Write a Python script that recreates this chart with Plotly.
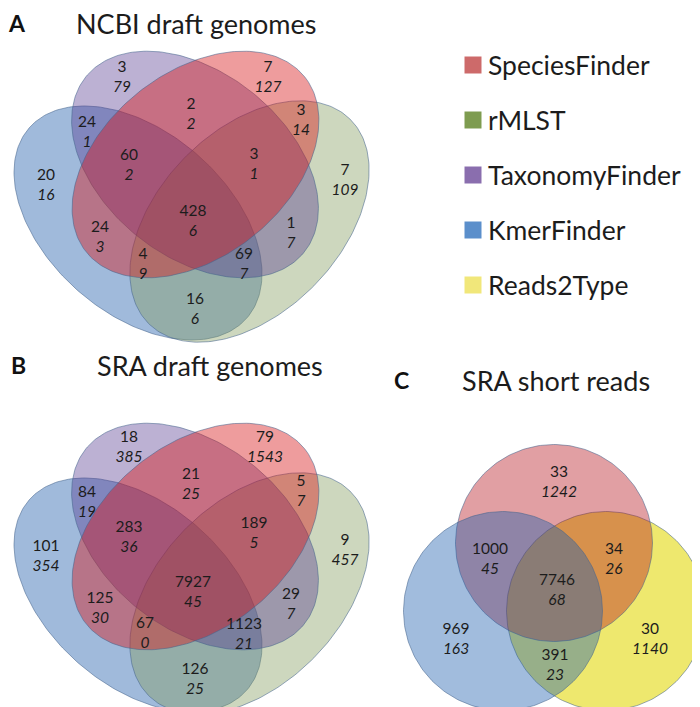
import numpy as np
import plotly.graph_objects as go

# ---------------- data ----------------
tools = ["SpeciesFinder", "rMLST", "TaxonomyFinder", "KmerFinder", "Reads2Type"]

# four-set regions (P=TaxonomyFinder, R=SpeciesFinder, G=rMLST, B=KmerFinder)
quad_regions = ["P", "R", "PR", "RG", "PB", "PRB", "PRG", "B", "G",
                "PRBG", "RB", "PG", "RBG", "PBG", "BG"]
ncbi_top = [3, 7, 2, 3, 24, 60, 3, 20, 7, 428, 24, 1, 4, 69, 16]
ncbi_bottom = [79, 127, 2, 14, 1, 2, 1, 16, 109, 6, 3, 7, 9, 7, 6]
sra_draft_top = [18, 79, 21, 5, 84, 283, 189, 101, 9, 7927, 125, 29, 67, 1123, 126]
sra_draft_bottom = [385, 1543, 25, 7, 19, 36, 5, 354, 457, 45, 30, 7, 0, 21, 25]

# three-set regions (R=SpeciesFinder, B=KmerFinder, Y=Reads2Type)
tri_regions = ["R", "RB", "RY", "RBY", "B", "Y", "BY"]
sra_reads_top = [33, 1000, 34, 7746, 969, 30, 391]
sra_reads_bottom = [1242, 45, 26, 68, 163, 1140, 23]

panel_titles = ["NCBI draft genomes", "SRA draft genomes", "SRA short reads"]
panel_letters = ["A", "B", "C"]

# ---------------- layout / style ----------------
W, H = 700, 707
fill = {
    "R": "rgba(215,18,22,0.42)",
    "G": "rgba(130,155,92,0.40)",
    "P": "rgba(80,50,140,0.38)",
    "B": "rgba(18,82,165,0.40)",
    "Rc": "rgba(180,14,24,0.40)",
    "Y": "rgba(227,217,14,0.60)",
    "Bc": "rgba(30,95,175,0.42)",
}
legend_colors = ["#CD6A6A", "#7E9C50", "#8A6EAE", "#5B8FCB", "#F1E77A"]
outline = "rgba(70,100,140,0.55)"
FONT = "Lato"
TXT = "#1c1c1c"

# ellipse geometry (pixel space): cx, cy, a, b, angle (deg, ccw on screen)
quad_shapes = [
    ("B", 130, 215, 144.5, 90.5, 138.8),
    ("G", 241.5, 213.5, 143.5, 91, 45.6),
    ("P", 187, 156.5, 140, 92, 141.2),
    ("R", 187.5, 156.5, 140, 92, 38.8),
]
tri_shapes = [
    ("Y", 598, 603, 99.5, 99.5, 0),
    ("Rc", 546, 535, 98.5, 98.5, 0),
    ("Bc", 495, 603, 99.5, 99.5, 0),
]
panel_dy = [0, 372]

posA = {"P": (114, 70), "R": (260, 70), "PR": (183, 107), "RG": (293, 113),
        "PB": (79, 125), "PRB": (121, 158), "PRG": (246, 157), "B": (38, 178),
        "G": (337, 173), "PRBG": (185, 214), "RB": (92, 230), "PG": (283, 226),
        "RBG": (135, 257), "PBG": (236, 257), "BG": (187, 302)}
posB = {"P": (121, 440), "R": (257, 440), "PR": (183, 477), "RG": (293, 484),
        "PB": (79, 495), "PRB": (121, 530), "PRG": (246, 526), "B": (38, 549),
        "G": (337, 543), "PRBG": (185, 585), "RB": (92, 601), "PG": (283, 597),
        "RBG": (137, 626), "PBG": (236, 627), "BG": (187, 672)}
posC = {"R": (551, 475), "RB": (482, 552), "RY": (606, 552), "RBY": (549, 583),
        "B": (448, 632), "Y": (642, 632), "BY": (547, 658)}


def ellipse_xy(cx, cy, a, b, ang, n=240):
    t = np.linspace(0, 2 * np.pi, n)
    th = np.deg2rad(ang)
    x = cx + a * np.cos(t) * np.cos(th) - b * np.sin(t) * np.sin(th)
    y = cy - (a * np.cos(t) * np.sin(th) + b * np.sin(t) * np.cos(th))
    return x, y


fig = go.Figure()

for dy in panel_dy:
    for key, cx, cy, a, b, ang in quad_shapes:
        x, y = ellipse_xy(cx, cy + dy, a, b, ang)
        fig.add_trace(go.Scatter(x=x, y=y, mode="lines", fill="toself",
                                 fillcolor=fill[key],
                                 line=dict(color=outline, width=1),
                                 hoverinfo="skip", showlegend=False))
for key, cx, cy, a, b, ang in tri_shapes:
    x, y = ellipse_xy(cx, cy, a, b, ang)
    fig.add_trace(go.Scatter(x=x, y=y, mode="lines", fill="toself",
                             fillcolor=fill[key],
                             line=dict(color=outline, width=1),
                             hoverinfo="skip", showlegend=False))


def add_counts(regions, tops, bottoms, pos):
    xs = [pos[r][0] for r in regions]
    ys = [pos[r][1] for r in regions]
    fig.add_trace(go.Scatter(
        x=xs, y=[v - 10 for v in ys], mode="text", text=[str(v) for v in tops],
        textfont=dict(family=FONT, size=15.5, color=TXT),
        hoverinfo="skip", showlegend=False))
    fig.add_trace(go.Scatter(
        x=xs, y=[v + 10 for v in ys], mode="text", text=[str(v) for v in bottoms],
        textfont=dict(family=FONT, size=15.5, color=TXT, style="italic"),
        hoverinfo="skip", showlegend=False))


add_counts(quad_regions, ncbi_top, ncbi_bottom, posA)
add_counts(quad_regions, sra_draft_top, sra_draft_bottom, posB)
add_counts(tri_regions, sra_reads_top, sra_reads_bottom, posC)

# legend
leg_y = [57, 112, 167, 222, 277]
fig.add_trace(go.Scatter(
    x=[465] * len(tools), y=leg_y, mode="markers",
    marker=dict(symbol="square", size=17, color=legend_colors, line=dict(width=0)),
    hoverinfo="skip", showlegend=False))
annotations = []
for name, yy in zip(tools, leg_y):
    annotations.append(dict(x=478, y=yy, text=name, showarrow=False, xanchor="left",
                            yanchor="middle", font=dict(family=FONT, size=26.5, color=TXT)))

title_pos = [(188, 15), (202, 357), (548, 372)]
letter_pos = [(9, 15), (10, 357), (393, 372)]
for t, (tx, ty) in zip(panel_titles, title_pos):
    annotations.append(dict(x=tx, y=ty, text=t, showarrow=False, xanchor="center",
                            yanchor="middle", font=dict(family=FONT, size=27, color=TXT)))
for t, (tx, ty) in zip(panel_letters, letter_pos):
    annotations.append(dict(x=tx, y=ty, text="<b>%s</b>" % t, showarrow=False,
                            xanchor="center", yanchor="middle",
                            font=dict(family=FONT, size=23, color="#111111")))

fig.update_layout(
    width=W, height=H, margin=dict(l=0, r=0, t=0, b=0),
    paper_bgcolor="white", plot_bgcolor="white",
    xaxis=dict(range=[0, W], visible=False, fixedrange=True),
    yaxis=dict(range=[H, 0], visible=False, fixedrange=True),
    annotations=annotations, showlegend=False,
)
fig.write_html("out.html", config={"displayModeBar": False})
